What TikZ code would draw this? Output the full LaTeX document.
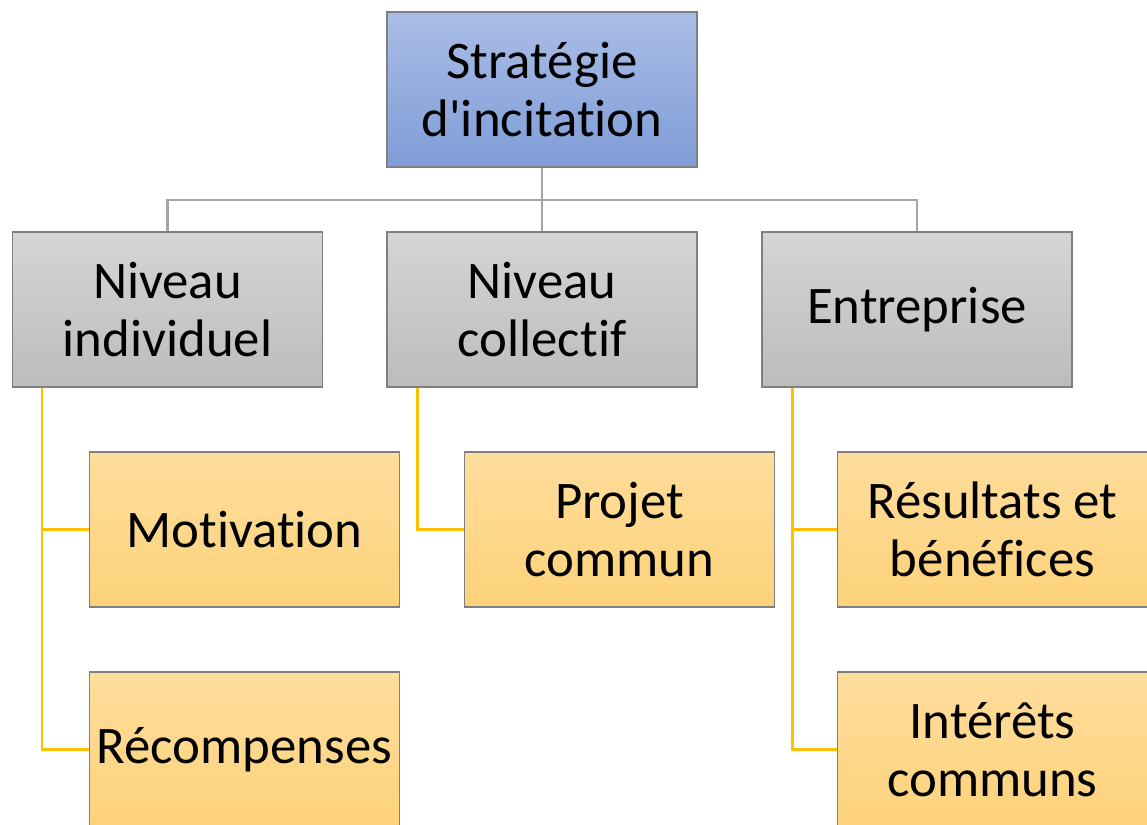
\documentclass[tikz,border=0pt]{standalone}
\usepackage{fontspec}
\setmainfont[Ligatures={NoCommon}]{Carlito}
\definecolor{bluetop}{HTML}{AABDE6}
\definecolor{bluebot}{HTML}{7F9DD7}
\definecolor{graytop}{HTML}{D5D5D5}
\definecolor{graybot}{HTML}{BCBCBC}
\definecolor{ortop}{HTML}{FEDD9C}
\definecolor{orbot}{HTML}{FDD27A}
\definecolor{boxline}{HTML}{7F7F7F}
\definecolor{grayline}{HTML}{A5A5A5}
\definecolor{orline}{HTML}{FFC000}
\begin{document}
\begin{tikzpicture}[x=0.5pt, y=-0.5pt,
    box/.style={rectangle, draw=boxline, line width=0.6pt, minimum width=155pt, minimum height=77.5pt,
        align=center, font=\fontsize{26.4}{29}\selectfont, inner sep=0pt},
    top box/.style={box, top color=bluetop, bottom color=bluebot},
    mid box/.style={box, top color=graytop, bottom color=graybot},
    leaf box/.style={box, top color=ortop, bottom color=orbot},
    gray link/.style={draw=grayline, line width=1.1pt},
    or link/.style={draw=orline, line width=1.1pt}]

    \useasboundingbox (0,0) rectangle (1147,825);

    \node[top box] at (542, 89.5) (strat) {Stratégie\\d\textquotesingle incitation};

    \node[mid box] at (167.5, 309.5) (indiv) {Niveau\\individuel};
    \node[mid box] at (542, 309.5) (coll) {Niveau\\collectif};
    \node[mid box] at (917, 309.5) (entr) {Entreprise};

    \node[leaf box] at (244.5, 529.5) (motiv) {Motivation};
    \node[leaf box] at (244.5, 749.5) (recomp) {Récompenses};
    \node[leaf box] at (619.5, 529.5) (projet) {Projet\\commun};
    \node[leaf box] at (992.5, 529.5) (result) {Résultats et\\bénéfices};
    \node[leaf box] at (992.5, 749.5) (interet) {Intérêts\\communs};

    \coordinate (hub) at (542, 200);
    \draw[gray link] (strat) -- (hub);
    \draw[gray link] (hub) -| (indiv);
    \draw[gray link] (hub) -- (coll);
    \draw[gray link] (hub) -| (entr);

    \draw[or link] (indiv.south west) ++(30,0) |- (motiv.west);
    \draw[or link] (indiv.south west) ++(30,0) |- (recomp.west);
    \draw[or link] (coll.south west) ++(31,0) |- (projet.west);
    \draw[or link] (entr.south west) ++(31,0) |- (result.west);
    \draw[or link] (entr.south west) ++(31,0) |- (interet.west);

\end{tikzpicture}
\end{document}
